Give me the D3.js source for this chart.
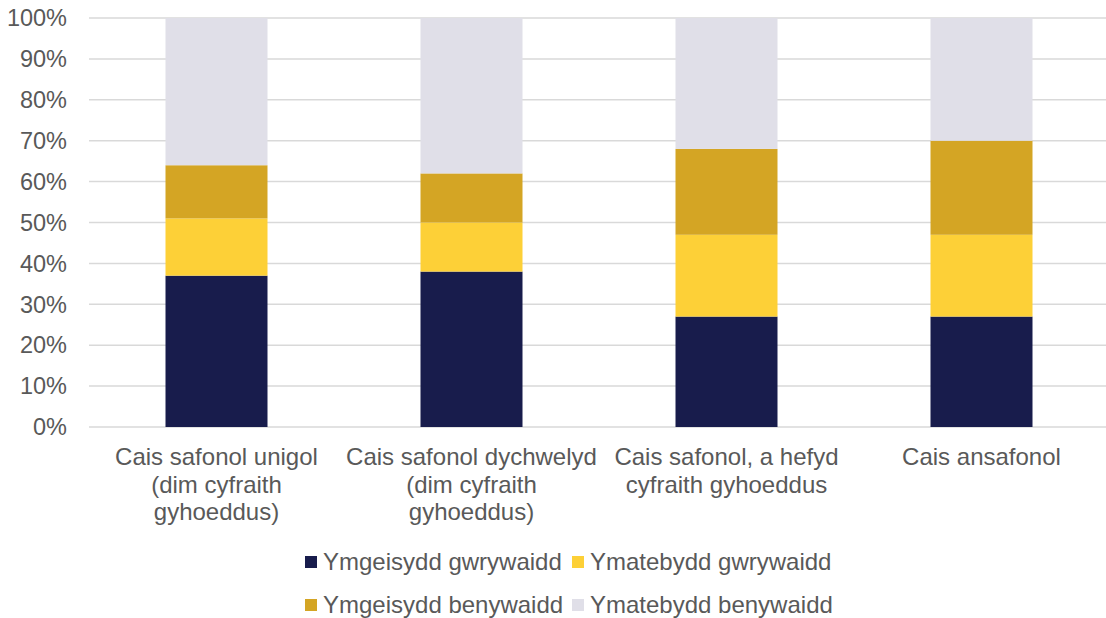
<!DOCTYPE html>
<html>
<head>
<meta charset="utf-8">
<script src="https://cdn.jsdelivr.net/npm/d3@7"></script>
<style>
  body { margin: 0; background: #fff; }
  svg text { font-family: "Liberation Sans", Arial, sans-serif; fill: #595959; }
</style>
</head>
<body>
<div id="app"></div>
<script>
const categories = [
  ["Cais safonol unigol", "(dim cyfraith", "gyhoeddus)"],
  ["Cais safonol dychwelyd", "(dim cyfraith", "gyhoeddus)"],
  ["Cais safonol, a hefyd", "cyfraith gyhoeddus"],
  ["Cais ansafonol"]
];
const seriesNames = ["Ymgeisydd gwrywaidd", "Ymatebydd gwrywaidd", "Ymgeisydd benywaidd", "Ymatebydd benywaidd"];
const applicantMale = [37, 38, 27, 27];
const respondentMale = [14, 12, 20, 20];
const applicantFemale = [13, 12, 21, 23];
const respondentFemale = [36, 38, 32, 30];
const yTicks = [0, 10, 20, 30, 40, 50, 60, 70, 80, 90, 100];
const colours = ["#181c4c", "#fdd037", "#d4a524", "#e0dfe8"];

const width = 1106, height = 618;

const rows = categories.map((c, i) => ({
  key: i,
  [seriesNames[0]]: applicantMale[i],
  [seriesNames[1]]: respondentMale[i],
  [seriesNames[2]]: applicantFemale[i],
  [seriesNames[3]]: respondentFemale[i]
}));

const svg = d3.select("#app").append("svg")
    .attr("width", width)
    .attr("height", height);

const x = d3.scaleBand()
    .domain(d3.range(categories.length))
    .range([89, 1109]);

const y = d3.scaleLinear()
    .domain([0, 100])
    .range([427, 18]);

// gridlines
svg.append("g")
  .selectAll("line")
  .data(yTicks)
  .join("line")
    .attr("x1", 89)
    .attr("x2", width)
    .attr("y1", d => y(d))
    .attr("y2", d => y(d))
    .attr("stroke", "#d9d9d9")
    .attr("stroke-width", 1.5);

// y labels
svg.append("g")
  .selectAll("text")
  .data(yTicks)
  .join("text")
    .attr("x", 67)
    .attr("y", d => y(d))
    .attr("dy", "0.35em")
    .attr("text-anchor", "end")
    .attr("font-size", 23.5)
    .text(d => d + "%");

const stack = d3.stack().keys(seriesNames)(rows);
const barW = x.bandwidth() * 0.4;

svg.append("g")
  .selectAll("g")
  .data(stack)
  .join("g")
    .attr("fill", (d, i) => colours[i])
  .selectAll("rect")
  .data(d => d)
  .join("rect")
    .attr("x", d => x(d.data.key) + (x.bandwidth() - barW) / 2)
    .attr("width", barW)
    .attr("y", d => y(d[1]))
    .attr("height", d => y(d[0]) - y(d[1]));

// category labels
const cat = svg.append("g")
  .selectAll("text")
  .data(categories)
  .join("text")
    .attr("text-anchor", "middle")
    .attr("font-size", 24)
    .attr("x", (d, i) => x(i) + x.bandwidth() / 2)
    .attr("y", 465);
cat.selectAll("tspan")
  .data(d => d)
  .join("tspan")
    .attr("x", function() { return d3.select(this.parentNode).attr("x"); })
    .attr("dy", (d, i) => i === 0 ? 0 : 27.5)
    .text(d => d);

// legend
const legendPos = [[305, 562], [572, 562], [305, 605], [572, 605]];
const legend = svg.append("g")
  .selectAll("g")
  .data(seriesNames)
  .join("g")
    .attr("transform", (d, i) => `translate(${legendPos[i][0]},${legendPos[i][1]})`);
legend.append("rect")
    .attr("x", 0).attr("y", -6)
    .attr("width", 12).attr("height", 12)
    .attr("fill", (d, i) => colours[i]);
legend.append("text")
    .attr("x", 18)
    .attr("dy", "0.35em")
    .attr("font-size", 24)
    .text(d => d);
</script>
</body>
</html>
